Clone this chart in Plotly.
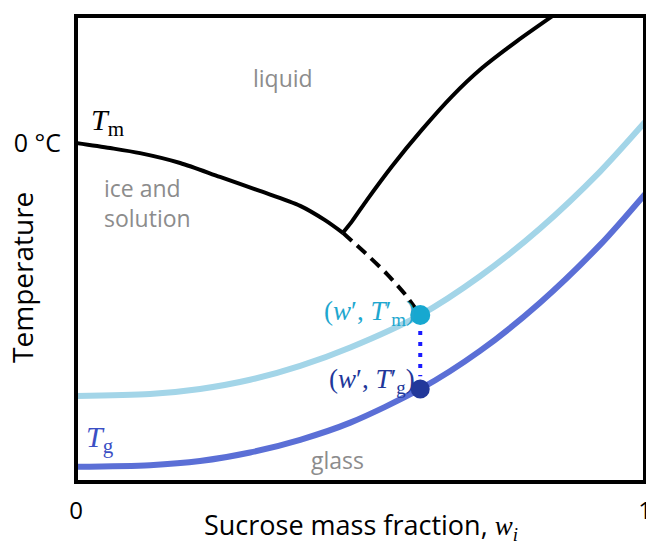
import plotly.graph_objects as go

# Sucrose mass fraction (x) and temperature in °C (y) for each curve
tm_x = [0.0, 0.060, 0.1125, 0.183, 0.253, 0.323, 0.394, 0.4376, 0.469]
tm_y = [0.0, -1.6, -3.2, -6.3, -10.7, -15.1, -19.8, -24.3, -28.3]

tm_dash_x = [0.469, 0.508, 0.5466, 0.578, 0.605]
tm_dash_y = [-28.3, -34.6, -41.3, -47.6, -54.2]

sol_x = [0.469, 0.485, 0.5115, 0.5554, 0.6081, 0.6608, 0.7135, 0.775, 0.8383]
sol_y = [-28.3, -24.7, -17.9, -7.3, 4.2, 14.7, 23.6, 32.1, 40.1]

tmp_x = [0.0, 0.130, 0.218, 0.306, 0.394, 0.482, 0.605, 0.710, 0.815, 0.921, 1.0]
tmp_y = [-79.7, -79.1, -77.5, -74.6, -70.2, -64.4, -54.2, -42.0, -27.0, -9.0, 6.6]

tg_x = [0.0, 0.130, 0.218, 0.306, 0.394, 0.482, 0.605, 0.710, 0.815, 0.921, 1.0]
tg_y = [-102.0, -101.5, -100.2, -97.5, -93.5, -88.1, -77.5, -65.5, -50.4, -32.1, -16.1]

w_prime = 0.605
tm_prime = -54.2
tg_prime = -77.5

x_ticks = [0, 1]
x_labels = ["0", "1"]
y_ticks = [0]
y_labels = ["0 °C"]

SANS = "Open Sans"
SERIF = "Liberation Serif"
GRAY = "#8c8c8c"

fig = go.Figure()

fig.add_trace(go.Scatter(x=tmp_x, y=tmp_y, mode="lines",
                         line=dict(color="#a3d5e8", width=6, shape="spline", smoothing=0.8)))
fig.add_trace(go.Scatter(x=tg_x, y=tg_y, mode="lines",
                         line=dict(color="#5b6fd6", width=6, shape="spline", smoothing=0.8)))
fig.add_trace(go.Scatter(x=tm_x, y=tm_y, mode="lines",
                         line=dict(color="black", width=4, shape="spline", smoothing=0.8)))
fig.add_trace(go.Scatter(x=tm_dash_x, y=tm_dash_y, mode="lines",
                         line=dict(color="black", width=4, dash="12px,7px", shape="spline",
                                   smoothing=0.8)))
fig.add_trace(go.Scatter(x=sol_x, y=sol_y, mode="lines",
                         line=dict(color="black", width=4, shape="spline", smoothing=0.6)))
fig.add_trace(go.Scatter(x=[w_prime, w_prime], y=[tm_prime - 5, tg_prime + 4], mode="lines",
                         line=dict(color="#1a1aff", width=4, dash="4px,7px")))
fig.add_trace(go.Scatter(x=[w_prime], y=[tm_prime], mode="markers",
                         marker=dict(color="#17a8d0", size=20)))
fig.add_trace(go.Scatter(x=[w_prime], y=[tg_prime], mode="markers",
                         marker=dict(color="#22389a", size=19)))

annotations = [
    dict(x=0.364, y=20.5, text="liquid", font=dict(family=SANS, size=23, color=GRAY)),
    dict(x=0.045, y=-18.9, text="ice and<br>solution", xanchor="left", align="left",
         font=dict(family=SANS, size=23, color=GRAY)),
    dict(x=0.46, y=-99.8, text="glass", font=dict(family=SANS, size=23, color=GRAY)),
    dict(x=0.056, y=6.5, text="<i>T</i><sub>m</sub>",
         font=dict(family=SERIF, size=30, color="black")),
    dict(x=0.043, y=-93.2, text="<i>T</i><sub>g</sub>",
         font=dict(family=SERIF, size=30, color="#3b4fc4")),
    dict(x=0.600, y=-53.5, xanchor="right", text="(<i>w</i>′, <i>T</i>′<sub>m</sub>)",
         font=dict(family=SERIF, size=27, color="#1ea7cf")),
    dict(x=0.600, y=-75.0, xanchor="right", text="(<i>w</i>′, <i>T</i>′<sub>g</sub>)",
         font=dict(family=SERIF, size=27, color="#22379a")),
    dict(xref="paper", yref="paper", x=0.5, y=-0.0923, xanchor="center", yanchor="middle",
         text=f"Sucrose mass fraction, <span style='font-family:{SERIF}'><i>w</i><sub><i>i</i></sub></span>",
         font=dict(family=SANS, size=27, color="black")),
    dict(xref="paper", yref="paper", x=-0.095, y=0.44, xanchor="center", yanchor="middle",
         textangle=-90, text="Temperature", font=dict(family=SANS, size=28, color="black")),
]
for a in annotations:
    a.setdefault("xref", "x")
    a.setdefault("yref", "y")
    a["showarrow"] = False

fig.update_layout(
    width=646, height=544,
    margin=dict(l=76, r=1, t=16, b=62, autoexpand=False),
    paper_bgcolor="white", plot_bgcolor="white",
    showlegend=False,
    annotations=annotations,
    shapes=[dict(type="rect", xref="paper", yref="paper", x0=0, x1=1, y0=0, y1=1,
                 line=dict(color="black", width=4), layer="above")],
    xaxis=dict(range=[0, 1], showgrid=False, zeroline=False, showline=False,
               automargin=False,
               tickvals=x_ticks, ticktext=x_labels, ticks="", ticklabelstandoff=12,
               ticklabeloverflow="allow",
               tickfont=dict(family=SANS, size=24, color="black"), fixedrange=True),
    yaxis=dict(range=[-106.8, 40], showgrid=False, zeroline=False, showline=False,
               automargin=False,
               tickvals=y_ticks, ticktext=y_labels, ticks="", ticklabelstandoff=14,
               ticklabeloverflow="allow",
               tickfont=dict(family=SANS, size=25, color="black"), fixedrange=True),
)

fig.write_html("out.html")
